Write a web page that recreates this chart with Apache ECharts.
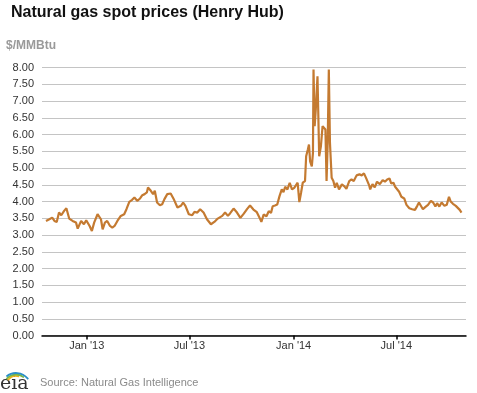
<!DOCTYPE html>
<html>
<head>
<meta charset="utf-8">
<script src="https://cdn.jsdelivr.net/npm/echarts@6/dist/echarts.min.js"></script>
<style>
html,body{margin:0;padding:0;background:#fff;}
#c{width:477px;height:393px;}
</style>
</head>
<body>
<div id="c"></div>
<script>
var titleText = "Natural gas spot prices (Henry Hub)";
var unitText = "$/MMBtu";
var sourceText = "Source: Natural Gas Intelligence";
var tickDates = ["2013-01-01", "2013-07-01", "2014-01-01", "2014-07-01"];
var yTicks = [0, 8, 0.5];

var dates = [
"2012-10-21","2012-10-27","2012-11-01","2012-11-05","2012-11-09","2012-11-13","2012-11-17","2012-11-22","2012-11-26","2012-12-01",
"2012-12-07","2012-12-13","2012-12-16","2012-12-22","2012-12-27","2012-12-31","2013-01-06","2013-01-10","2013-01-14","2013-01-20",
"2013-01-23","2013-01-26","2013-01-29","2013-02-02","2013-02-06","2013-02-11","2013-02-15","2013-02-19","2013-02-24","2013-03-02",
"2013-03-08","2013-03-12","2013-03-17","2013-03-22","2013-03-26","2013-03-31","2013-04-05","2013-04-09","2013-04-13","2013-04-17",
"2013-04-19","2013-04-24","2013-04-28","2013-05-01","2013-05-05","2013-05-10","2013-05-14","2013-05-18","2013-05-23","2013-05-29",
"2013-06-04","2013-06-10","2013-06-16","2013-06-20","2013-06-24","2013-06-30","2013-07-06","2013-07-10","2013-07-15","2013-07-20",
"2013-07-26","2013-08-01","2013-08-08","2013-08-14","2013-08-20","2013-08-28","2013-09-02","2013-09-07","2013-09-11","2013-09-17",
"2013-09-23","2013-09-29","2013-10-05","2013-10-11","2013-10-16","2013-10-22","2013-10-28","2013-11-02","2013-11-05","2013-11-09",
"2013-11-14","2013-11-18","2013-11-22","2013-11-25","2013-11-29","2013-12-03","2013-12-07","2013-12-11","2013-12-14","2013-12-17",
"2013-12-21","2013-12-25","2013-12-29","2014-01-02","2014-01-05","2014-01-08","2014-01-11","2014-01-14","2014-01-17","2014-01-21",
"2014-01-23","2014-01-26","2014-01-28","2014-01-30","2014-02-02","2014-02-04","2014-02-05","2014-02-07","2014-02-09","2014-02-12",
"2014-02-13","2014-02-15","2014-02-18","2014-02-21","2014-02-23","2014-02-26","2014-02-28","2014-03-02","2014-03-04","2014-03-06",
"2014-03-09","2014-03-12","2014-03-15","2014-03-18","2014-03-22","2014-03-27","2014-03-31","2014-04-04","2014-04-09","2014-04-13",
"2014-04-17","2014-04-22","2014-04-27","2014-05-01","2014-05-05","2014-05-09","2014-05-14","2014-05-16","2014-05-20","2014-05-24",
"2014-05-28","2014-06-02","2014-06-07","2014-06-11","2014-06-15","2014-06-19","2014-06-22","2014-06-26","2014-06-29","2014-07-02",
"2014-07-06","2014-07-10","2014-07-15","2014-07-19","2014-07-24","2014-07-29","2014-08-03","2014-08-07","2014-08-10","2014-08-13",
"2014-08-17","2014-08-21","2014-08-26","2014-08-31","2014-09-04","2014-09-08","2014-09-11","2014-09-15","2014-09-19","2014-09-24",
"2014-09-28","2014-10-02","2014-10-05","2014-10-09","2014-10-14","2014-10-17","2014-10-21","2014-10-24"
];
var prices = [
3.42,3.47,3.52,3.42,3.39,3.67,3.59,3.72,3.80,3.49,
3.42,3.37,3.19,3.42,3.32,3.44,3.27,3.12,3.37,3.62,
3.67,3.47,3.17,3.37,3.42,3.27,3.22,3.27,3.42,3.57,
3.62,3.77,3.99,4.05,4.12,4.02,4.09,4.19,4.22,4.27,
4.42,4.32,4.22,4.32,3.97,3.89,3.92,4.07,4.22,4.24,
4.05,3.82,3.87,3.97,3.87,3.62,3.59,3.69,3.67,3.77,
3.67,3.47,3.32,3.39,3.49,3.57,3.67,3.57,3.65,3.79,
3.67,3.51,3.64,3.78,3.88,3.76,3.68,3.51,3.39,3.61,
3.56,3.71,3.66,3.86,3.88,3.91,4.16,4.36,4.28,4.44,
4.36,4.56,4.36,4.41,4.36,4.56,3.98,4.26,4.56,4.61,
5.35,5.55,5.70,5.20,5.05,5.45,7.94,6.25,6.75,7.74,
6.95,5.35,5.65,6.25,6.20,6.15,4.61,5.75,7.94,5.75,
4.71,4.61,4.41,4.56,4.36,4.51,4.46,4.38,4.61,4.66,
4.61,4.78,4.81,4.78,4.84,4.69,4.49,4.36,4.52,4.42,
4.59,4.52,4.64,4.59,4.66,4.69,4.54,4.56,4.44,4.46,
4.29,4.14,4.09,3.90,3.80,3.77,3.75,3.87,3.97,3.93,
3.77,3.83,3.90,4.02,3.97,3.85,3.95,3.85,3.97,3.87,
3.90,4.14,4.00,3.93,3.87,3.90,3.75,3.67
];

var monthNames = ["Jan","Feb","Mar","Apr","May","Jun","Jul","Aug","Sep","Oct","Nov","Dec"];
function ts(s){ var p = s.split("-"); return Date.UTC(+p[0], +p[1]-1, +p[2]); }

var chart = echarts.init(document.getElementById('c'), null, {renderer:'canvas'});
var font = "Liberation Sans, Arial, sans-serif";
var tickTs = tickDates.map(ts);

chart.setOption({
  animation: false,
  backgroundColor: '#ffffff',
  title: {
    text: titleText,
    left: 6, top: 0,
    textStyle: {fontFamily: font, fontSize: 16, fontWeight: 'bold', color: '#111'}
  },
  grid: {left: 42, right: 11, top: 67.5, bottom: 57.5, containLabel: false},
  xAxis: {
    type: 'value',
    min: ts("2012-10-14"),
    max: ts("2014-11-01"),
    axisLine: {show: true, lineStyle: {color: '#000', width: 1.5}},
    axisTick: {show: true, length: 4, lineStyle: {color: '#000', width: 1.5}, customValues: tickTs},
    axisLabel: {
      customValues: tickTs,
      fontFamily: font, fontSize: 11, color: '#333', margin: 5,
      formatter: function(v){ var d = new Date(v); return monthNames[d.getUTCMonth()] + " '" + String(d.getUTCFullYear()).slice(2); }
    },
    splitLine: {show: false}
  },
  yAxis: {
    type: 'value',
    min: yTicks[0], max: yTicks[1], interval: yTicks[2],
    axisLine: {show: false},
    axisTick: {show: false},
    axisLabel: {fontFamily: font, fontSize: 11, color: '#333', margin: 8,
      formatter: function(v){ return v.toFixed(2); }},
    splitLine: {lineStyle: {color: '#c4c4c4', width: 1}}
  },
  series: [{
    type: 'line',
    data: dates.map(function(d, i){ return [ts(d), prices[i]]; }),
    showSymbol: false,
    lineStyle: {color: '#c47a31', width: 2.2},
    itemStyle: {color: '#c47a31'}
  }],
  graphic: [
    {type: 'text', left: 6, top: 40, style: {text: unitText, fontFamily: font, fontSize: 12, fontWeight: 'bold', fill: '#999'}},
    {type: 'text', left: 40, top: 377, style: {text: sourceText, fontFamily: font, fontSize: 11, fill: '#8a8a8a'}},
    {type: 'text', left: 0, top: 375, style: {text: 'eia', fontFamily: 'DejaVu Serif, serif', fontSize: 19, fill: '#333'}},
    {type: 'arc', shape: {cx: 16, cy: 386, r: 10, startAngle: Math.PI*1.2, endAngle: Math.PI*1.6}, style: {stroke: '#f2b21b', lineWidth: 1.8, fill: null}},
    {type: 'arc', shape: {cx: 16, cy: 387, r: 12.5, startAngle: Math.PI*1.22, endAngle: Math.PI*1.72}, style: {stroke: '#7ab648', lineWidth: 1.8, fill: null}},
    {type: 'arc', shape: {cx: 16, cy: 388, r: 15, startAngle: Math.PI*1.28, endAngle: Math.PI*1.8}, style: {stroke: '#2a8fc8', lineWidth: 1.8, fill: null}}
  ]
});
</script>
</body>
</html>
